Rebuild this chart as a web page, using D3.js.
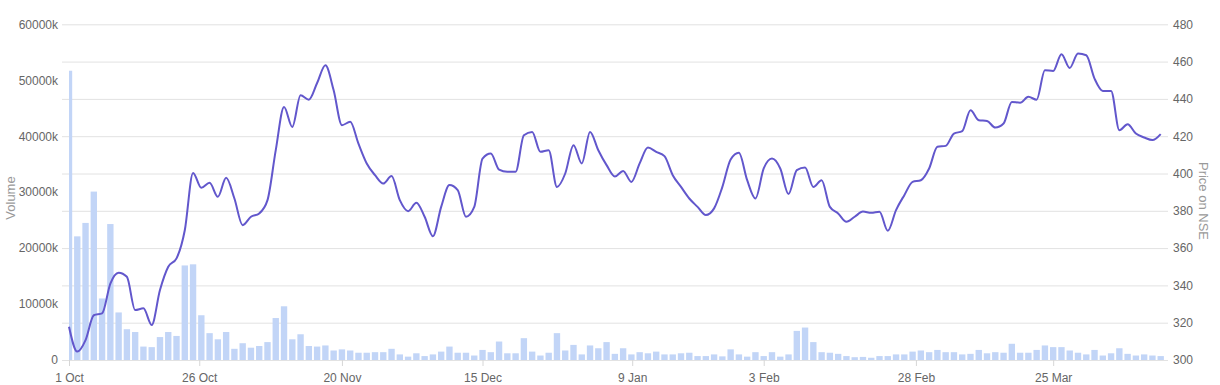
<!DOCTYPE html>
<html>
<head>
<meta charset="utf-8">
<script src="https://cdn.jsdelivr.net/npm/d3@7"></script>
<style>
    body { margin: 0; background: #ffffff; }
    svg { font-family: "Liberation Sans", Arial, sans-serif; }
    .axis text { font-size: 12px; fill: #666666; }
    .axis-title { font-size: 13px; fill: #999999; }
</style>
</head>
<body>
<svg id="chart" width="1220" height="385"></svg>
<script>
// daily traded volume, in thousands of shares (one value per trading day)
let volume = [
    51700, 22100, 24500, 30100, 11000, 24300, 8500, 5500, 5000, 2400,
    2300, 4100, 5000, 4300, 16900, 17100, 8000, 4800, 3700, 5000,
    2000, 3000, 2200, 2500, 3200, 7500, 9600, 3700, 4600, 2500,
    2400, 2600, 1700, 1900, 1700, 1300, 1300, 1400, 1400, 2000,
    1000, 600, 1200, 700, 1000, 1500, 2400, 1300, 1300, 800,
    1800, 1400, 3300, 1200, 1200, 3900, 1500, 800, 1300, 4800,
    1700, 2700, 1000, 2600, 2100, 3200, 1100, 2100, 1000, 1400,
    1200, 1500, 1000, 1000, 1200, 1300, 700, 700, 1000, 650,
    1900, 1000, 600, 1400, 700, 1400, 600, 1000, 5200, 5800,
    3200, 1400, 1300, 1100, 700, 500, 550, 400, 700, 700,
    1000, 1000, 1500, 1700, 1400, 1800, 1400, 1400, 1000, 1100,
    1800, 1200, 1400, 1300, 2900, 1300, 1300, 1800, 2600, 2300,
    2300, 1700, 1300, 1000, 1800, 800, 1200, 2100, 1100, 800,
    1000, 800, 700
];

// closing price on NSE, same trading days
let price = [
    317.8, 304.5, 310.7, 324.0, 325.0, 341.0, 346.8, 344.6, 326.8, 327.7,
    318.8, 337.5, 350.0, 354.5, 369.6, 400.3, 392.3, 395.0, 387.5, 397.7,
    386.6, 372.3, 376.8, 378.6, 385.7, 412.5, 435.7, 425.0, 442.0, 439.6,
    448.5, 458.0, 444.6, 425.9, 427.7, 416.0, 405.4, 399.1, 394.6, 398.6,
    385.7, 379.8, 384.3, 376.8, 366.4, 382.1, 393.8, 391.1, 376.8, 382.1,
    408.0, 410.7, 402.1, 400.9, 400.9, 420.5, 422.3, 411.6, 412.5, 392.8,
    400.0, 415.2, 405.4, 422.3, 412.5, 404.5, 398.4, 401.4, 395.5, 405.4,
    413.9, 411.6, 409.3, 399.1, 392.8, 386.6, 382.1, 377.7, 381.3, 392.8,
    407.5, 411.1, 396.4, 386.6, 402.7, 408.0, 402.7, 389.0, 401.8, 403.2,
    392.8, 396.4, 382.1, 378.6, 374.1, 376.8, 379.6, 378.9, 379.5, 369.3,
    380.4, 388.4, 395.5, 396.4, 402.7, 414.3, 414.8, 421.4, 422.7, 433.9,
    428.6, 428.2, 424.6, 426.8, 438.4, 437.9, 441.1, 439.6, 455.4, 455.0,
    463.9, 456.6, 464.3, 463.4, 450.9, 444.3, 444.3, 423.2, 426.4, 421.4,
    419.3, 417.9, 421.1
];

// date labels on the x axis and where they fall, in trading-day units
let dateLabels = ["1 Oct", "26 Oct", "20 Nov", "15 Dec", "9 Jan", "3 Feb", "28 Feb", "25 Mar"];
let datePositions = [0, 15.75, 33, 50, 68.1, 84, 102.4, 119];

main();


/**
 * Draws the volume bars, the price line and both value axes.
 */
function main() {
    let svg = d3.select("#chart");

    // plot box
    let dims = {left: 69, right: 1168, gridLeft: 62, top: 24.3, bottom: 360,
                lastX: 1160.7};

    let xScale = d3.scaleLinear()
                   .domain([0, volume.length - 1])
                   .range([dims.left, dims.lastX]);

    let yVolume = d3.scaleLinear()
                    .domain([0, 60000])
                    .range([dims.bottom, dims.top]);

    let yPrice = d3.scaleLinear()
                   .domain([300, 480])
                   .range([dims.bottom, dims.top]);

    // right axis carries the gridlines
    let rightAxis = svg.append("g")
                       .attr("class", "axis")
                       .attr("transform", "translate(" + dims.right + ",0)")
                       .call(d3.axisRight(yPrice)
                               .ticks(10)
                               .tickSize(-(dims.right - dims.gridLeft))
                               .tickPadding(5));
    rightAxis.select(".domain").remove();
    rightAxis.selectAll("line").attr("stroke", "#e2e2e2");

    // left axis, volume in thousands
    let leftAxis = svg.append("g")
                      .attr("class", "axis")
                      .attr("transform", "translate(" + (dims.gridLeft - 4) + ",0)")
                      .call(d3.axisLeft(yVolume)
                              .ticks(6)
                              .tickSize(0)
                              .tickPadding(0)
                              .tickFormat(function(d) {
                                  return d === 0 ? "0" : d + "k";
                              }));
    leftAxis.select(".domain").remove();

    // bottom axis with date labels
    let bottomAxis = svg.append("g")
                        .attr("class", "axis")
                        .attr("transform", "translate(0," + dims.bottom + ")")
                        .call(d3.axisBottom(xScale)
                                .tickValues(datePositions)
                                .tickSize(6)
                                .tickPadding(7)
                                .tickFormat(function(d, i) {
                                    return dateLabels[i];
                                }));
    bottomAxis.select(".domain").remove();
    bottomAxis.selectAll("line").attr("stroke", "#d6d6d6");

    // clip so the first bar is cut at the axis start
    svg.append("clipPath")
       .attr("id", "plot-clip")
       .append("rect")
       .attr("x", dims.left)
       .attr("y", 0)
       .attr("width", dims.right - dims.left)
       .attr("height", dims.bottom);

    let step = xScale(1) - xScale(0);
    let barWidth = step * 0.77;

    svg.append("g")
       .attr("clip-path", "url(#plot-clip)")
       .selectAll("rect")
       .data(volume)
       .enter()
       .append("rect")
       .attr("x", function(d, i) { return xScale(i) - barWidth / 2; })
       .attr("y", function(d) { return yVolume(d); })
       .attr("width", barWidth)
       .attr("height", function(d) { return dims.bottom - yVolume(d); })
       .attr("fill", "#c2d5f7");

    // smooth price line
    let line = d3.line()
                 .x(function(d, i) { return xScale(i); })
                 .y(function(d) { return yPrice(d); })
                 .curve(d3.curveMonotoneX);

    svg.append("path")
       .datum(price)
       .attr("d", line)
       .attr("fill", "none")
       .attr("stroke", "#6257cc")
       .attr("stroke-width", 2);

    // axis titles
    svg.append("text")
       .attr("class", "axis-title")
       .attr("transform", "translate(15,198) rotate(-90)")
       .attr("text-anchor", "middle")
       .text("Volume");

    svg.append("text")
       .attr("class", "axis-title")
       .attr("transform", "translate(1199,201) rotate(90)")
       .attr("text-anchor", "middle")
       .text("Price on NSE");
}
</script>
</body>
</html>
